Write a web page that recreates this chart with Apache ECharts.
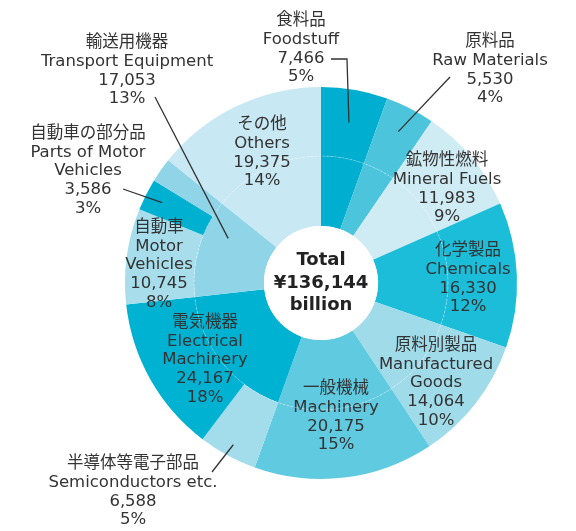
<!DOCTYPE html>
<html>
<head>
<meta charset="utf-8" />
<script src="https://cdn.jsdelivr.net/npm/echarts@6/dist/echarts.min.js"></script>
<style>body{margin:0;background:#fff}</style>
</head>
<body>
<div id="main" style="width:576px;height:531px;"></div>
<script>
    // main categories (inner ring)
    var jpNames = ['食料品', '原料品', '鉱物性燃料', '化学製品', '原料別製品', '一般機械', '電気機器', '輸送用機器', 'その他'];
    var enNames = ['Foodstuff', 'Raw Materials', 'Mineral Fuels', 'Chemicals', 'Manufactured\nGoods', 'Machinery', 'Electrical\nMachinery', 'Transport Equipment', 'Others'];
    var values = [7466, 5530, 11983, 16330, 14064, 20175, 24167, 17053, 19375];
    var percents = [5, 4, 9, 12, 10, 15, 18, 13, 14];
    var colors = ['#00aecf', '#4cc5dc', '#cfebf4', '#1bbdd9', '#a0dbea', '#60cae0', '#00b2d2', '#8fd4e7', '#c8e8f3'];

    // breakdown items shown in the outer ring
    var subJp = ['半導体等電子部品', '自動車', '自動車の部分品'];
    var subEn = ['Semiconductors etc.', 'Motor\nVehicles', 'Parts of Motor\nVehicles'];
    var subValues = [6588, 10745, 3586];
    var subPercents = [5, 8, 3];
    var subParent = [6, 7, 7];
    var subColors = ['#a3dceb', '#a8deec', '#00b0d1'];

    var totalText = 'Total\n¥136,144\nbillion';

    var cx = 321, cy = 283;
    var r0 = 57, r1 = 127, r2 = 196;

    function fmt(v) {
        return v.toLocaleString('en-US');
    }
    function txt(jp, en, v, p) {
        return jp + '\n' + en + '\n' + fmt(v) + '\n' + p + '%';
    }

    var innerData = values.map(function(v, i) {
        return { name: enNames[i], value: v, itemStyle: { color: colors[i] } };
    });

    var outerData = [];
    values.forEach(function(v, i) {
        var rest = v;
        subParent.forEach(function(pi, k) {
            if (pi === i) {
                outerData.push({ name: subEn[k], value: subValues[k], itemStyle: { color: subColors[k] },
                    txt: txt(subJp[k], subEn[k], subValues[k], subPercents[k]) });
                rest -= subValues[k];
            }
        });
        outerData.push({ name: enNames[i], value: rest, itemStyle: { color: colors[i] },
            txt: txt(jpNames[i], enNames[i], v, percents[i]) });
    });

    // label centres, in outer data order
    var labelPos = [
        [301, 49], [490, 70], [447, 189], [468, 279], [436, 383], [336, 417],
        [133, 492], [205, 360], [159, 265], [88, 171], [127, 71], [262, 153]
    ];

    var sum = values.reduce(function(a, b) { return a + b; }, 0);
    function point(list, idx, frac, r) {
        var before = 0;
        for (var i = 0; i < idx; i++) before += list[i].value;
        var a = (before + list[idx].value * frac) / sum * Math.PI * 2;
        return [cx + r * Math.sin(a), cy - r * Math.cos(a)];
    }

    // leader lines: label end points then anchor inside the slice
    var leaders = [
        { list: outerData, idx: 0, frac: 0.5, r: 163, from: [[331, 59], [347, 59]] },
        { list: outerData, idx: 1, frac: 0.5, r: 170, from: [[450, 77]] },
        { list: innerData, idx: 7, frac: 0.71, r: 103, from: [[155, 97]] },
        { list: outerData, idx: 9, frac: 0.5, r: 178, from: [[123, 189]] },
        { list: outerData, idx: 6, frac: 0.5, r: 184, from: [[212, 472]] }
    ];

    var graphics = [{
        type: 'circle',
        shape: { cx: cx, cy: cy, r: r1 },
        style: { fill: 'none', stroke: 'rgba(255,255,255,0.35)', lineWidth: 1, lineDash: [2, 2] },
        z: 10
    }];
    leaders.forEach(function(l) {
        graphics.push({
            type: 'polyline',
            shape: { points: l.from.concat([point(l.list, l.idx, l.frac, l.r)]) },
            style: { stroke: '#333', lineWidth: 1.3, fill: 'none' },
            z: 20
        });
    });

    var font = '"DejaVu Sans", "Noto Sans CJK JP", sans-serif';

    var myChart = echarts.init(document.getElementById('main'));
    var option = {
        backgroundColor: '#fff',
        animation: false,
        graphic: graphics,
        series: [{
            type: 'pie',
            center: [cx, cy],
            radius: [r0, r1],
            startAngle: 90,
            silent: true,
            avoidLabelOverlap: false,
            label: { show: false },
            labelLine: { show: false },
            emphasis: { disabled: true },
            data: innerData
        }, {
            type: 'pie',
            center: [cx, cy],
            radius: [r1, r2],
            startAngle: 90,
            silent: true,
            avoidLabelOverlap: false,
            label: {
                show: true,
                position: 'inside',
                formatter: function(p) { return p.data.txt; },
                color: '#333',
                fontFamily: font,
                fontSize: 16.5,
                lineHeight: 18.7
            },
            labelLine: { show: false },
            labelLayout: function(p) {
                var pos = labelPos[p.dataIndex];
                return { x: pos[0], y: pos[1], align: 'center', verticalAlign: 'middle' };
            },
            emphasis: { disabled: true },
            data: outerData
        }, {
            type: 'pie',
            center: [cx, cy],
            radius: [0, r0],
            silent: true,
            label: {
                show: true,
                position: 'center',
                formatter: totalText,
                color: '#222',
                fontFamily: font,
                fontWeight: 'bold',
                fontSize: 18,
                lineHeight: 22.5
            },
            labelLine: { show: false },
            emphasis: { disabled: true },
            data: [{ value: 1, itemStyle: { color: '#fff' } }]
        }]
    };
    myChart.setOption(option);
</script>
</body>
</html>
